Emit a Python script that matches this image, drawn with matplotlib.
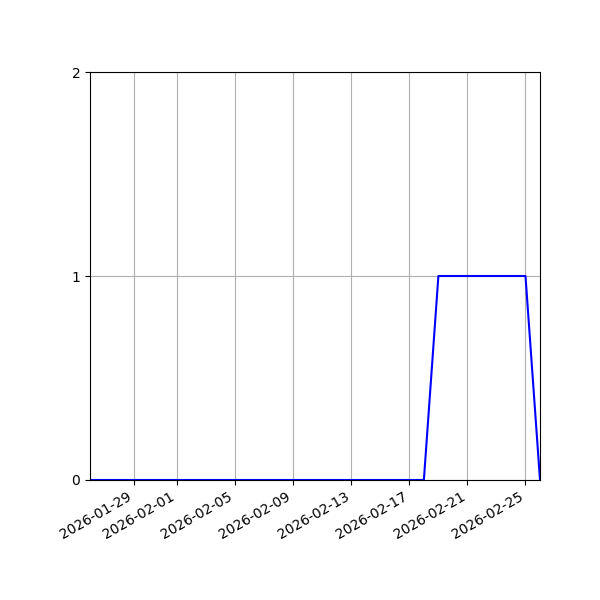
"""Daily count line chart."""

import datetime as dt

import matplotlib
matplotlib.use("Agg")
import matplotlib.pyplot as plt

start = dt.date(2026, 1, 26)
dates = [start + dt.timedelta(days=i) for i in range(32)]
counts = [0] * 24 + [1] * 7 + [0]


def main() -> None:
    fig, ax = plt.subplots(figsize=(6, 6), dpi=100)
    fig.subplots_adjust(left=0.15, right=0.9, top=0.88)
    ax.plot(dates, counts, color="blue", linewidth=1.5)
    ax.set_xlim(dates[0], dates[-1])
    ax.set_ylim(0, 2)
    ax.set_yticks([0, 1, 2])
    ax.grid(True)
    fig.autofmt_xdate()
    fig.savefig("out.png")
    plt.close(fig)


if __name__ == "__main__":
    main()
